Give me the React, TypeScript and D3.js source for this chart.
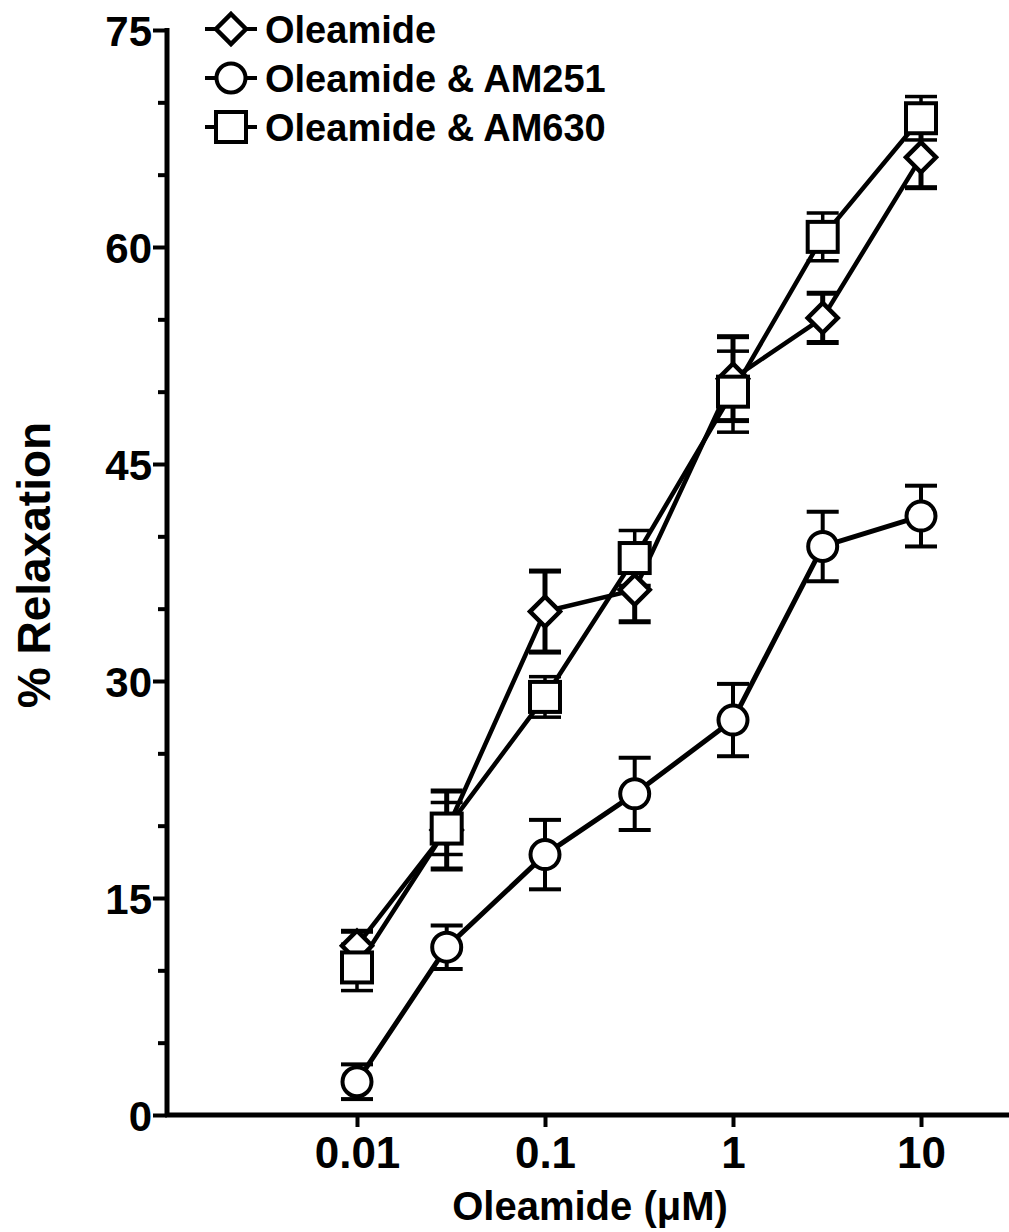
import React, { useEffect, useRef } from 'react';
import * as d3 from 'd3';

// concentrations (uM)
const doses = [0.01, 0.03, 0.1, 0.3, 1, 3, 10];

const oleamide = [11.7, 19.7, 34.8, 36.3, 50.9, 55.1, 66.2];
const oleamideErr = [1.0, 2.7, 2.8, 2.2, 2.9, 1.7, 2.1];

const am251 = [2.3, 11.6, 18.0, 22.2, 27.3, 39.3, 41.4];
const am251Err = [1.2, 1.5, 2.4, 2.5, 2.5, 2.4, 2.1];

const am630 = [10.2, 19.8, 28.9, 38.5, 50.0, 60.7, 68.9];
const am630Err = [1.6, 1.8, 1.4, 1.9, 2.8, 1.65, 1.5];

const xTicks = [0.01, 0.1, 1, 10];
const yMajor = [0, 15, 30, 45, 60, 75];
const yMinor = [5, 10, 20, 25, 35, 40, 50, 55, 65, 70];

const seriesNames = ['Oleamide', 'Oleamide & AM251', 'Oleamide & AM630'];

const FONT = "'Liberation Sans', Arial, Helvetica, sans-serif";

const App = () => {
  const ref = useRef<SVGSVGElement | null>(null);

  useEffect(() => {
    if (!ref.current) return;
    const svg = d3.select(ref.current);
    svg.selectAll('*').remove();

    const x = d3.scaleLog().domain([0.01, 10]).range([357, 921]);
    const y = d3.scaleLinear().domain([0, 75]).range([1115, 30]);
    const axisX = 167;
    const axisY = y(0);

    const series = [
      { name: seriesNames[0], vals: oleamide, err: oleamideErr, shape: 'diamond', lw: 4.5, capW: 5 },
      { name: seriesNames[1], vals: am251, err: am251Err, shape: 'circle', lw: 5, capW: 4 },
      { name: seriesNames[2], vals: am630, err: am630Err, shape: 'square', lw: 4.5, capW: 3.5 },
    ];

    // axes
    const yAxis = svg.append('g').attr('transform', `translate(${axisX},0)`);
    yAxis.call(d3.axisLeft(y).tickValues(yMajor).tickSize(14).tickFormat(d3.format('d')) as any);
    yAxis.select('.domain').remove();
    yAxis.selectAll('line').attr('stroke', '#000').attr('stroke-width', 4);
    yAxis.selectAll('text')
      .attr('font-family', FONT).attr('font-weight', 'bold').attr('font-size', 42)
      .attr('fill', '#000').attr('x', -15).attr('dy', '0.36em');

    const yMinorG = svg.append('g').attr('transform', `translate(${axisX},0)`);
    yMinorG.call(d3.axisLeft(y).tickValues(yMinor).tickSize(9).tickFormat(() => '') as any);
    yMinorG.select('.domain').remove();
    yMinorG.selectAll('line').attr('stroke', '#000').attr('stroke-width', 4);

    svg.append('line')
      .attr('x1', axisX).attr('x2', axisX)
      .attr('y1', y(75) - 2).attr('y2', axisY)
      .attr('stroke', '#000').attr('stroke-width', 5);

    const xAxis = svg.append('g').attr('transform', `translate(0,${axisY})`);
    xAxis.call(d3.axisBottom(x).tickValues(xTicks).tickSize(12).tickFormat((d: any) => String(d)) as any);
    xAxis.select('.domain').remove();
    xAxis.selectAll('line').attr('stroke', '#000').attr('stroke-width', 4);
    xAxis.selectAll('text')
      .attr('font-family', FONT).attr('font-weight', 'bold').attr('font-size', 44)
      .attr('fill', '#000').attr('y', 22).attr('dy', '0.71em');

    svg.append('line')
      .attr('x1', axisX - 2).attr('x2', 1009)
      .attr('y1', axisY).attr('y2', axisY)
      .attr('stroke', '#000').attr('stroke-width', 5);

    // axis titles
    svg.append('text')
      .attr('transform', `translate(50,565) rotate(-90)`)
      .attr('text-anchor', 'middle')
      .attr('font-family', FONT).attr('font-weight', 'bold').attr('font-size', 46)
      .text('% Relaxation');

    svg.append('text')
      .attr('x', 590).attr('y', 1220)
      .attr('text-anchor', 'middle')
      .attr('font-family', FONT).attr('font-weight', 'bold').attr('font-size', 40)
      .text('Oleamide (\u03bcM)');

    const drawMarker = (g: any, shape: string, cx: number, cy: number) => {
      if (shape === 'diamond') {
        const r = 15;
        g.append('path')
          .attr('d', `M${cx},${cy - r}L${cx + r},${cy}L${cx},${cy + r}L${cx - r},${cy}Z`)
          .attr('fill', '#fff').attr('stroke', '#000').attr('stroke-width', 4.5)
          .attr('stroke-linejoin', 'miter');
      } else if (shape === 'circle') {
        g.append('circle').attr('cx', cx).attr('cy', cy).attr('r', 14.5)
          .attr('fill', '#fff').attr('stroke', '#000').attr('stroke-width', 4);
      } else {
        const h = 15;
        g.append('rect').attr('x', cx - h).attr('y', cy - h).attr('width', 2 * h).attr('height', 2 * h)
          .attr('fill', '#fff').attr('stroke', '#000').attr('stroke-width', 4);
      }
    };

    const plot = svg.append('g');

    // connecting lines
    const line = d3.line<number>().x((_, i) => x(doses[i])).y(d => y(d));
    series.forEach(s => {
      plot.append('path')
        .attr('d', line(s.vals))
        .attr('fill', 'none').attr('stroke', '#000').attr('stroke-width', s.lw)
        .attr('stroke-linejoin', 'round');
    });

    // error bars
    series.forEach(s => {
      s.vals.forEach((v, i) => {
        const cx = x(doses[i]);
        const lo = y(v - s.err[i]);
        const hi = y(v + s.err[i]);
        plot.append('line').attr('x1', cx).attr('x2', cx).attr('y1', lo).attr('y2', hi)
          .attr('stroke', '#000').attr('stroke-width', s.capW);
        [lo, hi].forEach(yy => {
          plot.append('line').attr('x1', cx - 16).attr('x2', cx + 16).attr('y1', yy).attr('y2', yy)
            .attr('stroke', '#000').attr('stroke-width', s.capW);
        });
      });
    });

    // markers
    series.forEach(s => {
      s.vals.forEach((v, i) => drawMarker(plot, s.shape, x(doses[i]), y(v)));
    });

    // legend
    const legend = svg.append('g');
    series.forEach((s, i) => {
      const ly = 29 + i * 49;
      const lx = 231;
      legend.append('line').attr('x1', lx - 26).attr('x2', lx + 26).attr('y1', ly).attr('y2', ly)
        .attr('stroke', '#000').attr('stroke-width', 4);
      drawMarker(legend, s.shape, lx, ly);
      legend.append('text')
        .attr('x', 265).attr('y', ly).attr('dy', '0.36em')
        .attr('font-family', FONT).attr('font-weight', 'bold').attr('font-size', 38)
        .text(s.name);
    });
  }, []);

  return (
    <svg ref={ref} width={1009} height={1232} style={{ display: 'block', position: 'absolute', left: 0, top: 0, background: '#fff' }} />
  );
};

export default App;
